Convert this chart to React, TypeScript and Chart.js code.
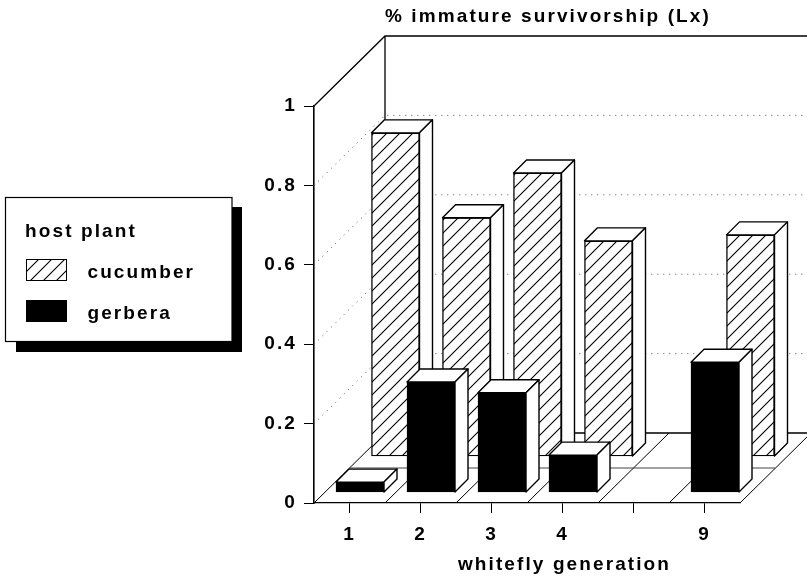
import React, { useEffect, useRef } from "react";
import { Chart, registerables } from "chart.js";

Chart.register(...registerables);

const categories = ["1", "2", "3", "4", "", "9"];
const cucumber = [0.814, 0.6, 0.713, 0.542, null, 0.557];
const gerbera = [0.025, 0.277, 0.25, 0.093, null, 0.327];
const yTicks = ["0", "0.2", "0.4", "0.6", "0.8", "1"];
const chartTitle = "% immature survivorship (Lx)";
const xTitle = "whitefly generation";
const legendTitle = "host plant";

const FONT = "'Liberation Sans', Arial, sans-serif";
const SPACING = "2.1px";

function hatch(): CanvasPattern {
  const t = document.createElement("canvas");
  t.width = 13;
  t.height = 13;
  const c = t.getContext("2d")!;
  c.fillStyle = "#fff";
  c.fillRect(0, 0, 13, 13);
  c.strokeStyle = "#000";
  c.lineWidth = 1.1;
  c.beginPath();
  c.moveTo(-2, 15);
  c.lineTo(15, -2);
  c.moveTo(-2, 2);
  c.lineTo(2, -2);
  c.moveTo(11, 15);
  c.lineTo(15, 11);
  c.stroke();
  return document.createElement("canvas").getContext("2d")!.createPattern(t, "repeat")!;
}

function swatch(fill: CanvasPattern | string): HTMLCanvasElement {
  const s = document.createElement("canvas");
  s.width = 52;
  s.height = 28;
  const c = s.getContext("2d")!;
  c.fillStyle = fill;
  c.fillRect(0, 0, 41, 22);
  c.strokeStyle = "#000";
  c.lineWidth = 1;
  c.strokeRect(0.5, 0.5, 40, 21);
  return s;
}

const DEPTH = 13;

const scene = {
  id: "scene",
  beforeUpdate(chart: any) {
    chart.ctx.letterSpacing = SPACING;
  },
  afterLayout(chart: any) {
    const lg = chart.legend;
    lg.left = 4;
    lg.width = 154;
    lg.right = 235;
    lg.top = 222.5;
    lg.bottom = 500;
    lg.height = 277.5;
    const tb = chart.titleBlock;
    tb.left = 385;
    tb.right = 807;
    tb.top = 0;
    tb.bottom = 27;
  },
  beforeDraw(chart: any) {
    const { ctx } = chart;
    ctx.save();
    ctx.fillStyle = "#000";
    ctx.fillRect(16, 207, 226, 145);
    ctx.fillStyle = "#fff";
    ctx.fillRect(5, 197, 227, 145);
    ctx.strokeStyle = "#000";
    ctx.lineWidth = 1.2;
    ctx.strokeRect(5.5, 197.5, 226.5, 144);
    ctx.restore();
  },
  beforeDatasetsDraw(chart: any) {
    const { ctx, chartArea, scales } = chart;
    const y = scales.y;
    const x = scales.x;
    const wallX = chartArea.left + 71;
    const wallDy = 70;
    const floorY = chartArea.bottom;
    ctx.save();
    ctx.lineWidth = 1;
    ctx.strokeStyle = "#555";
    // dotted grid on the side and the back wall
    ctx.setLineDash([1, 5]);
    for (let i = 1; i < yTicks.length - 1; i++) {
      const p = y.getPixelForValue(Number(yTicks[i]));
      ctx.beginPath();
      ctx.moveTo(chartArea.left, p);
      ctx.lineTo(wallX, p - wallDy);
      ctx.lineTo(807, p - wallDy);
      ctx.stroke();
    }
    ctx.setLineDash([]);
    // wall frame
    const top = y.getPixelForValue(1);
    ctx.lineWidth = 1.3;
    ctx.strokeStyle = "#000";
    ctx.beginPath();
    ctx.moveTo(chartArea.left, top);
    ctx.lineTo(wallX, top - wallDy);
    ctx.lineTo(807, top - wallDy);
    ctx.moveTo(wallX, top - wallDy);
    ctx.lineTo(wallX, floorY - wallDy);
    ctx.lineTo(807, floorY - wallDy);
    ctx.stroke();
    // floor
    ctx.lineWidth = 1;
    ctx.beginPath();
    for (let i = 0; i <= categories.length; i++) {
      const fx = i === 0 ? chartArea.left : x.getPixelForValue(i - 1) + (x.getPixelForValue(1) - x.getPixelForValue(0)) / 2;
      ctx.moveTo(fx, floorY);
      ctx.lineTo(fx + 71, floorY - wallDy);
    }
    ctx.stroke();
    ctx.strokeStyle = "#444";
    ctx.lineWidth = 1.2;
    ctx.beginPath();
    ctx.moveTo(chartArea.left + 35, floorY - 35);
    ctx.lineTo(chartArea.right + 35, floorY - 35);
    ctx.stroke();
    ctx.restore();
  },
  afterDatasetDraw(chart: any, args: any) {
    const { ctx } = chart;
    const values = chart.data.datasets[args.index].data;
    const meta = chart.getDatasetMeta(args.index);
    ctx.save();
    ctx.fillStyle = "#fff";
    ctx.strokeStyle = "#000";
    ctx.lineWidth = 1.4;
    ctx.lineJoin = "round";
    meta.data.forEach((bar: any, i: number) => {
      if (values[i].y == null) return;
      const l = bar.x - bar.width / 2;
      const r = bar.x + bar.width / 2;
      const t = bar.y;
      const b = bar.base;
      ctx.beginPath();
      ctx.moveTo(l, t);
      ctx.lineTo(l + DEPTH, t - DEPTH);
      ctx.lineTo(r + DEPTH, t - DEPTH);
      ctx.lineTo(r, t);
      ctx.closePath();
      ctx.fill();
      ctx.stroke();
      ctx.beginPath();
      ctx.moveTo(r, t);
      ctx.lineTo(r + DEPTH, t - DEPTH);
      ctx.lineTo(r + DEPTH, b - DEPTH);
      ctx.lineTo(r, b);
      ctx.closePath();
      ctx.fill();
      ctx.stroke();
    });
    ctx.restore();
  },
};

export default function App() {
  const ref = useRef<HTMLCanvasElement>(null);
  useEffect(() => {
    document.body.style.margin = "0";
    const canvas = ref.current!;
    const pattern = hatch();
    const black = "#000";
    const FRONT = 11 / 397;
    const BACK = 47 / 397;
    const SHIFT_F = 10.5 / 71;
    const SHIFT_B = 46 / 71;
    const n = categories.length;
    const chart = new Chart(canvas, {
      type: "bar",
      data: {
        labels: categories,
        datasets: [
          {
            label: "cucumber",
            data: cucumber.map((v, i) => ({ x: i, y: v })) as any,
            xAxisID: "xBack",
            yAxisID: "yBack",
            backgroundColor: pattern as any,
            borderColor: black,
            borderWidth: 1.4,
            borderSkipped: false,
            barThickness: 48,
            grouped: false,
            clip: false,
            order: 2,
          },
          {
            label: "gerbera",
            data: gerbera.map((v, i) => ({ x: i, y: v })) as any,
            xAxisID: "xFront",
            yAxisID: "yFront",
            backgroundColor: black,
            borderColor: black,
            borderWidth: 1,
            borderSkipped: false,
            barThickness: 48,
            grouped: false,
            clip: false,
            order: 1,
          },
        ],
      },
      options: {
        animation: false,
        responsive: false,
        layout: { padding: { top: 79, right: 67, left: 0, bottom: 0 } },
        plugins: {
          tooltip: { enabled: false },
          title: {
            display: true,
            text: chartTitle,
            align: "start",
            color: "#000",
            font: { family: FONT, size: 19, weight: "bold", lineHeight: "20px" as any },
            padding: { top: 7, bottom: 0 },
          },
          legend: {
            position: "left",
            align: "start",
            maxWidth: 1,
            title: {
              display: true,
              text: legendTitle,
              position: "center",
              color: "#000",
              padding: 0,
              font: { family: FONT, size: 19, weight: "bold", lineHeight: "19px" as any },
            },
            labels: {
              usePointStyle: true,
              pointStyleWidth: 52,
              padding: 22,
              color: "#000",
              font: { family: FONT, size: 19, weight: "bold" },
              generateLabels: (c: any) =>
                c.data.datasets.map((d: any, i: number) => ({
                  text: d.label,
                  datasetIndex: i,
                  pointStyle: swatch(d.backgroundColor),
                  fontColor: "#000",
                  lineWidth: 0,
                })),
            },
          },
        },
        scales: {
          x: {
            type: "category",
            offset: true,
            position: "bottom",
            border: { display: true, color: "#000", width: 1.3 },
            grid: { display: true, drawOnChartArea: false, drawTicks: true, tickLength: 10, offset: false, color: "#000" },
            ticks: {
              color: "#000",
              padding: 10,
              maxRotation: 0,
              autoSkip: false,
              font: { family: FONT, size: 19, weight: "bold" },
            },
            title: {
              display: true,
              text: xTitle,
              color: "#000",
              padding: { top: 0, bottom: 1 },
              font: { family: FONT, size: 19, weight: "bold" },
            },
            afterFit: (s: any) => {
              s.height = 74;
              if (!s._shifted) {
                s._shifted = true;
                const base = s.drawTitle;
                s.drawTitle = function (...a: any[]) {
                  const c = this.ctx;
                  c.save();
                  c.translate(37.5, 0);
                  base.apply(this, a);
                  c.restore();
                };
              }
            },
          },
          y: {
            type: "linear",
            min: 0,
            max: 1,
            position: "left",
            border: { display: true, color: "#000", width: 1.6 },
            grid: { display: true, drawOnChartArea: false, drawTicks: true, tickLength: 10, color: "#000" },
            ticks: {
              stepSize: 0.2,
              color: "#000",
              padding: 7,
              font: { family: FONT, size: 19, weight: "bold" },
              callback: (_v: any, i: number) => yTicks[i],
            },
            afterFit: (s: any) => {
              s.width = 313;
            },
          },
          xFront: { type: "linear", axis: "x", display: false, offset: false, min: -0.5 - SHIFT_F, max: n - 0.5 - SHIFT_F },
          xBack: { type: "linear", axis: "x", display: false, offset: false, min: -0.5 - SHIFT_B, max: n - 0.5 - SHIFT_B },
          yFront: { type: "linear", axis: "y", display: false, min: -FRONT, max: 1 - FRONT },
          yBack: { type: "linear", axis: "y", display: false, min: -BACK, max: 1 - BACK },
        } as any,
      },
      plugins: [scene as any],
    });
    return () => chart.destroy();
  }, []);
  return <canvas ref={ref} width={807} height={577} style={{ display: "block" }} />;
}
